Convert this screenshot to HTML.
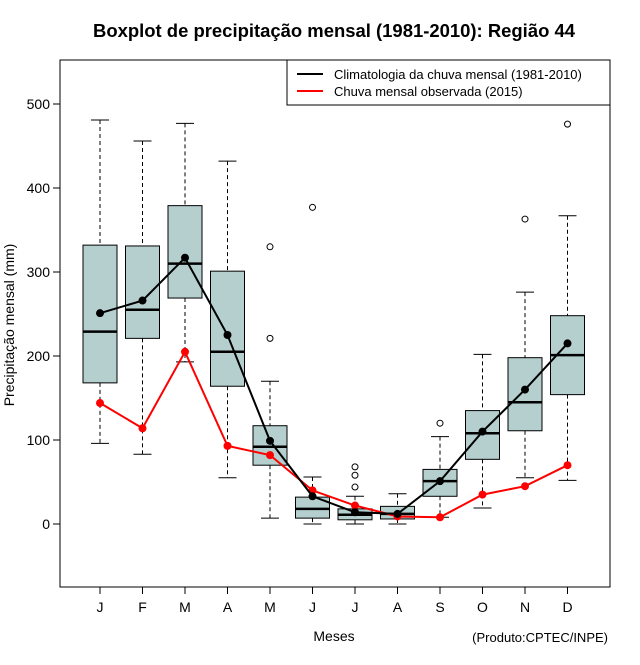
<!DOCTYPE html>
<html><head><meta charset="utf-8"><style>
body{margin:0;background:#fff}
svg text{font-family:"Liberation Sans",sans-serif}
</style></head><body>
<svg id="c" width="640" height="660" xmlns="http://www.w3.org/2000/svg">
<rect width="640" height="660" fill="#fff"/>
<text x="334" y="37" text-anchor="middle" font-size="18" font-weight="bold" textLength="482" lengthAdjust="spacingAndGlyphs">Boxplot de precipitação mensal (1981-2010): Região 44</text>
<rect x="60" y="60" width="550" height="527" fill="none" stroke="#000"/>
<g id="yaxis"></g>
<g id="xaxis"></g>
<g id="boxes"></g>
<g id="lines"></g>
<text transform="translate(14,325) rotate(-90)" text-anchor="middle" font-size="14">Precipitação mensal (mm)</text>
<text x="334" y="641" text-anchor="middle" font-size="14">Meses</text>
<text x="608" y="642" text-anchor="end" font-size="13">(Produto:CPTEC/INPE)</text>
<g>
<rect x="287" y="60" width="323" height="45" fill="#fff" stroke="#000"/>
<line x1="297" y1="74" x2="323" y2="74" stroke="#000" stroke-width="2"/>
<text x="334" y="79" font-size="13">Climatologia da chuva mensal (1981-2010)</text>
<line x1="297" y1="91" x2="323" y2="91" stroke="#f00" stroke-width="2"/>
<text x="334" y="96" font-size="13">Chuva mensal observada (2015)</text>
</g>
</svg>
<script>
const months=["J","F","M","A","M","J","J","A","S","O","N","D"];
const whiskerLow=[96,83,193,55,7,0,0,0,8,19,55,52];
const q1=[168,221,269,164,70,7,5,6,33,77,111,154];
const median=[229,255,310,205,92,18,11,12,51,108,145,201];
const q3=[332,331,379,301,117,32,18,21,65,135,198,248];
const whiskerHigh=[481,456,477,432,170,56,33,36,104,202,276,367];
const outliers=[[],[],[],[],[330,221],[377],[68,58,44],[],[120],[],[363],[476]];
const climatology=[251,266,317,225,99,33,14,12,51,110,160,215];
const observed=[144,114,205,93,82,40,22,9,8,35,45,70];
const yTicks=[0,100,200,300,400,500];
const NS="http://www.w3.org/2000/svg";
const y=v=>524-v*0.84;
const x=i=>100+i*42.5;
function mk(p,t,a){const e=document.createElementNS(NS,t);for(const k in a)e.setAttribute(k,a[k]);p.appendChild(e);return e;}
const ya=document.getElementById('yaxis'),xa=document.getElementById('xaxis'),bx=document.getElementById('boxes'),ln=document.getElementById('lines');
yTicks.forEach(v=>{mk(ya,'line',{x1:53,x2:60,y1:y(v),y2:y(v),stroke:'#000'});
const t=mk(ya,'text',{x:50,y:y(v)+5,'text-anchor':'end','font-size':14});t.textContent=v;

});
months.forEach((m,i)=>{mk(xa,'line',{x1:x(i),x2:x(i),y1:587,y2:594,stroke:'#000'});
const t=mk(xa,'text',{x:x(i),y:612,'text-anchor':'middle','font-size':14});t.textContent=m;


const g=mk(bx,'g',{});


const cx=x(i);
mk(g,'line',{x1:cx,x2:cx,y1:y(whiskerHigh[i]),y2:y(q3[i]),stroke:'#000','stroke-dasharray':'4,3'});
mk(g,'line',{x1:cx,x2:cx,y1:y(q1[i]),y2:y(whiskerLow[i]),stroke:'#000','stroke-dasharray':'4,3'});
mk(g,'line',{x1:cx-9,x2:cx+9,y1:y(whiskerHigh[i]),y2:y(whiskerHigh[i]),stroke:'#000'});
mk(g,'line',{x1:cx-9,x2:cx+9,y1:y(whiskerLow[i]),y2:y(whiskerLow[i]),stroke:'#000'});
mk(g,'rect',{x:cx-17,y:y(q3[i]),width:34,height:y(q1[i])-y(q3[i]),fill:'#b5cfcf',stroke:'#000'});
mk(g,'line',{x1:cx-17,x2:cx+17,y1:y(median[i]),y2:y(median[i]),stroke:'#000','stroke-width':2.5});
outliers[i].forEach(o=>mk(g,'circle',{cx:cx,cy:y(o),r:3,fill:'none',stroke:'#000'}));});
function series(vals,col,name){const g=mk(ln,'g',{});


mk(g,'polyline',{points:vals.map((v,i)=>x(i)+','+y(v)).join(' '),fill:'none',stroke:col,'stroke-width':2});
vals.forEach((v,i)=>mk(g,'circle',{cx:x(i),cy:y(v),r:4,fill:col}));}
series(observed,'#f00','observed-line');
series(climatology,'#000','climatology-line');
</script>
</body></html>
